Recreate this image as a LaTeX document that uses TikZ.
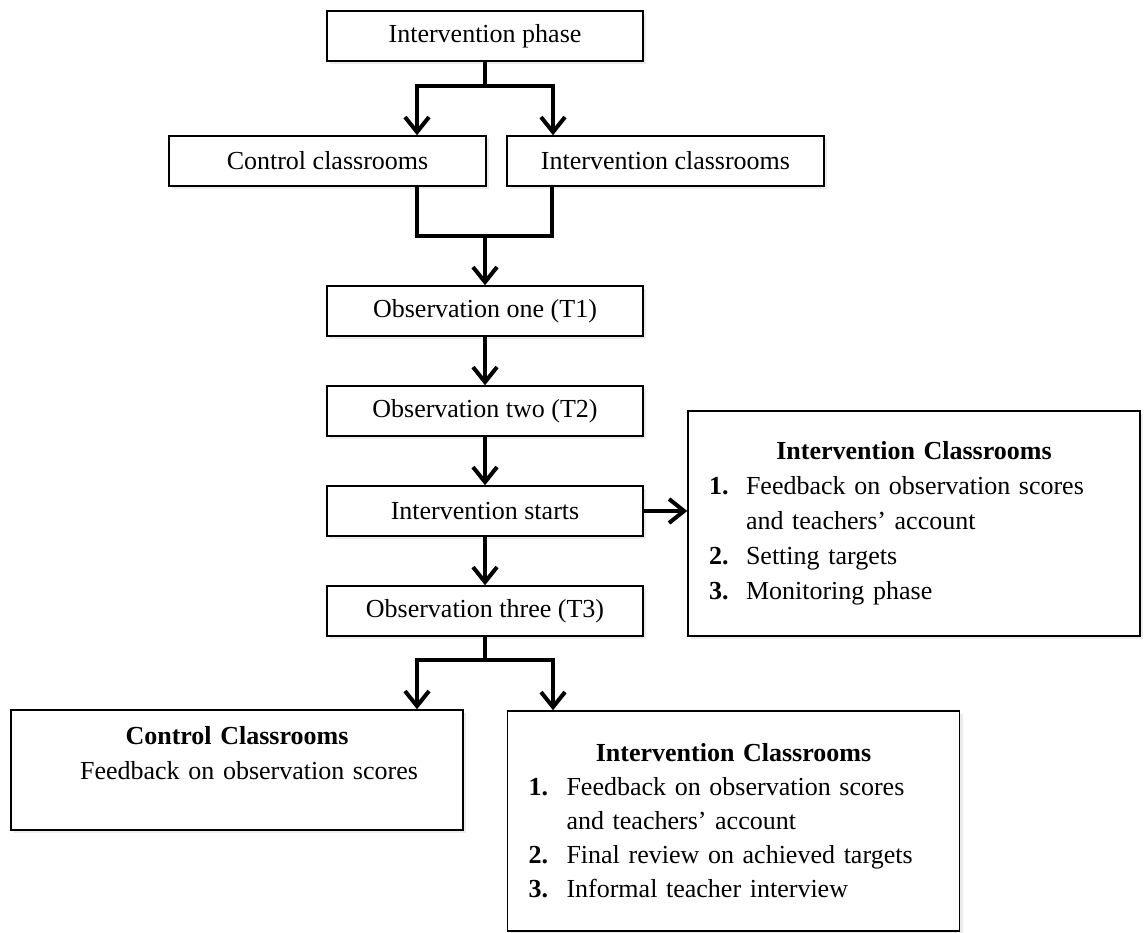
\documentclass[tikz,border=0pt]{standalone}
\usepackage{fontspec}
\setmainfont{Liberation Serif}
\usepackage{tikz}
\usetikzlibrary{positioning,arrows.meta,shadows}

\begin{document}
\begin{tikzpicture}[x=1pt,y=-1pt,
  box/.style={draw,line width=1.5pt,fill=white,minimum width=316pt,minimum height=50pt,
    inner sep=0pt,font=\fontsize{26}{35}\selectfont,
    drop shadow={shadow xshift=3pt,shadow yshift=-3pt,opacity=0.15}},
  bigbox/.style={box,text width=410pt,inner xsep=21pt,align=left,minimum width=452pt},
  conn/.style={line width=4pt},
  arr/.style={conn,-{Straight Barb[length=15pt,width=24pt]}}]
\useasboundingbox (0,0) rectangle (1146,933);

\node[box] (phase) at (485,36) {Intervention phase};
\node[box,minimum width=317pt] (ctrl) at (327.5,161) {Control classrooms};
\node[box,minimum width=317pt] (intv) at (665.5,161) {Intervention classrooms};
\node[box] (obs1) at (485,311) {Observation one (T1)};
\node[box] (obs2) at (485,411) {Observation two (T2)};
\node[box] (start) at (485,511) {Intervention starts};
\node[box] (obs3) at (485,611) {Observation three (T3)};

\node[bigbox,minimum height=225pt] (plan) at (914,523.5) {%
  \makebox[410pt]{\bfseries Intervention Classrooms}\\
  \makebox[37pt][l]{\bfseries 1.}Feedback on observation scores\\
  \hspace*{37pt}and teachers’ account\\
  \makebox[37pt][l]{\bfseries 2.}Setting targets\\
  \makebox[37pt][l]{\bfseries 3.}Monitoring phase};
\node[bigbox,minimum height=120pt,align=center] (ctrlfb) at (237,770) {%
  \textbf{Control Classrooms}\\
  \hspace*{24pt}Feedback on observation scores\\
  \mbox{}};
\node[bigbox,minimum width=451pt,minimum height=220pt,font=\fontsize{26}{34}\selectfont] (intvfb) at (733.5,821) {%
  \makebox[410pt]{\bfseries Intervention Classrooms}\\
  \makebox[38pt][l]{\bfseries 1.}Feedback on observation scores\\
  \hspace*{38pt}and teachers’ account\\
  \makebox[38pt][l]{\bfseries 2.}Final review on achieved targets\\
  \makebox[38pt][l]{\bfseries 3.}Informal teacher interview};

\coordinate (p1) at (485,86);
\coordinate (p1l) at (417,86);
\coordinate (p1r) at (553,86);
\draw[arr] (phase.south) |- (p1l) -- (p1l |- ctrl.north);
\draw[arr] (p1) -- (p1r) -- (p1r |- intv.north);

\coordinate (m1) at (485,236);
\coordinate (m1l) at (417,236);
\coordinate (m1r) at (552,236);
\draw[conn] (m1l |- ctrl.south) -- (m1l) -- (m1r) -- (m1r |- intv.south);
\draw[arr] (m1) -- (obs1.north);

\foreach \a/\b in {obs1/obs2,obs2/start,start/obs3}
  \draw[arr] (\a) -- (\b);
\draw[arr] (start.east) -- (start.east -| plan.west);

\coordinate (m2) at (485,660);
\coordinate (m2l) at (417,660);
\coordinate (m2r) at (553,660);
\draw[arr] (obs3.south) |- (m2l) -- (m2l |- ctrlfb.north);
\draw[arr] (m2) -- (m2r) -- (m2r |- intvfb.north);

\end{tikzpicture}
\end{document}
